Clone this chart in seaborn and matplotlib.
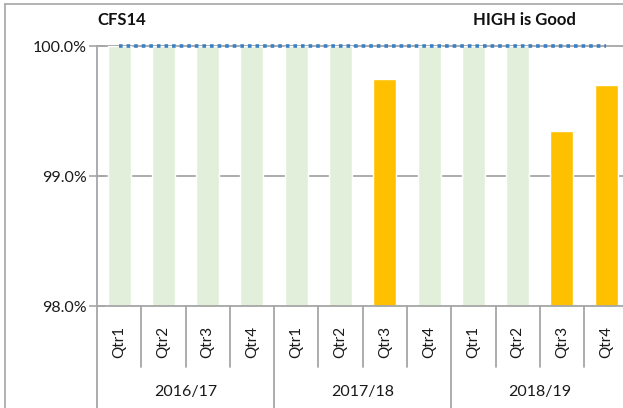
import matplotlib
matplotlib.use("Agg")
import matplotlib.pyplot as plt
import matplotlib.transforms as mtransforms
from matplotlib.lines import Line2D
from matplotlib.ticker import FuncFormatter
import seaborn as sns
import pandas as pd

years = ["2016/17", "2017/18", "2018/19"]
quarters = ["Qtr1", "Qtr2", "Qtr3", "Qtr4"]
values = [100.0, 100.0, 100.0, 100.0,
          100.0, 100.0, 99.75, 100.0,
          100.0, 100.0, 99.35, 99.70]
status = ["met", "met", "met", "met",
          "met", "met", "miss", "met",
          "met", "met", "miss", "miss"]
target = [100.0] * 12
title_left = "CFS14"
title_right = "HIGH is Good"

labels = [f"{y} {q}" for y in years for q in quarters]
df = pd.DataFrame({"label": labels, "value": values, "status": status,
                   "target": target, "pos": range(12)})

sns.set_theme(style="white")
plt.rcParams["font.family"] = ["Lato", "DejaVu Sans"]

fig = plt.figure(figsize=(6.23, 4.08), dpi=100)
ax = fig.add_axes([97 / 623, 1 - 306 / 408, 12 * 44.28 / 623, 260 / 408])

sns.barplot(data=df, x="label", y="value", hue="status",
            palette={"met": "#E2EFDA", "miss": "#FFC000"}, saturation=1,
            dodge=False, width=0.52, legend=False, ax=ax, zorder=2)
n_before = len(ax.lines)
sns.lineplot(data=df, x="pos", y="target", ax=ax, color="#3A80C8",
             linestyle=(0, (1, 1.1)), linewidth=2.6, zorder=4)
for ln in ax.lines[n_before:]:
    ln.set_clip_on(False)

ax.set_ylim(98, 100)
ax.set_xlim(-0.5, 11.5)
ax.set_yticks([98, 99, 100])
ax.yaxis.set_major_formatter(FuncFormatter(lambda v, p: f"{v:.1f}%"))
for yv in [99, 100]:
    ax.axhline(yv, color="#A6A6A6", linewidth=1.3, zorder=1, clip_on=False)

ax.set_xticks(range(12))
ax.set_xticklabels(quarters * 3, rotation=90)
ax.tick_params(axis="x", length=0, pad=14, labelsize=11, labelcolor="#1a1a1a")
ax.tick_params(axis="y", length=11, width=1.2, color="#A6A6A6", direction="inout",
               labelsize=11.5, labelcolor="#1a1a1a", pad=2, left=True)
ax.set_xlabel("")
ax.set_ylabel("")

for s in ["top", "right"]:
    ax.spines[s].set_visible(False)
for s in ["left", "bottom"]:
    ax.spines[s].set_color("#A6A6A6")
    ax.spines[s].set_linewidth(1.3)

trans = mtransforms.blended_transform_factory(ax.transData, ax.transAxes)
for i in range(13):
    x = i - 0.5
    if i % 4 == 0:
        ax.plot([x, x], [0, -0.40], transform=trans, color="#A6A6A6",
                linewidth=1.3, clip_on=False)
    else:
        ax.plot([x, x], [0, -0.235], transform=trans, color="#A6A6A6",
                linewidth=1.3, clip_on=False)
for j, y in enumerate(years):
    ax.text(j * 4 + 1.5, -0.33, y, transform=trans, ha="center", va="center",
            fontsize=11.5, color="#1a1a1a")

fig.text(97 / 623, 1 - 20 / 408, title_left, fontsize=12, fontweight="bold",
         ha="left", va="center", color="#111111")
fig.text(576 / 623, 1 - 20 / 408, title_right, fontsize=12, fontweight="bold",
         ha="right", va="center", color="#111111")

fig.add_artist(Line2D([5 / 623, 5 / 623], [0, 1 - 4 / 408], transform=fig.transFigure,
                      color="#A6A6A6", linewidth=1.2))
fig.add_artist(Line2D([5 / 623, 1], [1 - 4 / 408, 1 - 4 / 408], transform=fig.transFigure,
                      color="#A6A6A6", linewidth=1.2))

fig.savefig("out.png", dpi=100)
